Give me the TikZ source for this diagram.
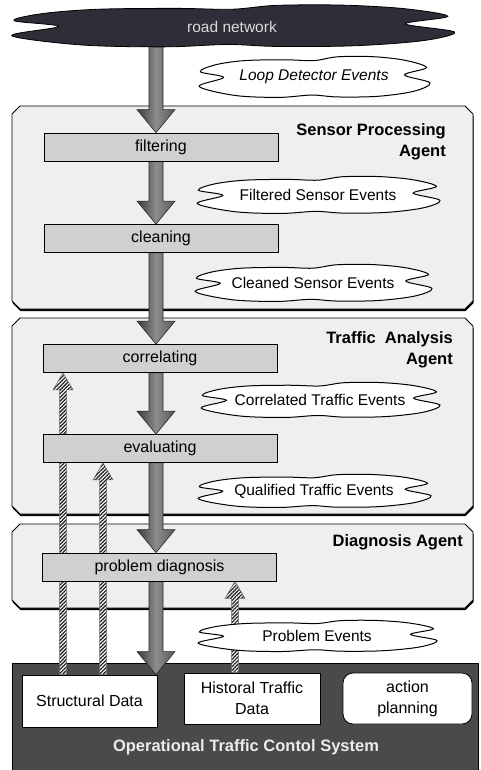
\documentclass[tikz,border=0pt]{standalone}
\usepackage{fontspec}
\setmainfont{Liberation Sans}
\usetikzlibrary{calc,patterns.meta}
\pgfdeclarelayer{back}
\pgfdeclarelayer{mid}
\pgfsetlayers{back,mid,main}
\definecolor{panelgray}{HTML}{EFEFEF}
\definecolor{boxgray}{HTML}{D0D0D0}
\definecolor{roadcol}{HTML}{2E2E38}
\definecolor{sysgray}{HTML}{4A4A4A}
\definecolor{arrdark}{HTML}{3C3C3C}
\definecolor{arrlight}{HTML}{8C8C8C}
\tikzset{
 procbox/.style={draw=black, line width=0.8pt, fill=boxgray, minimum width=234pt, minimum height=28pt, inner sep=0pt, font=\fontsize{16}{19}\selectfont},
 cloudline/.style={draw=black, line width=1pt, fill=white},
 cloudtext/.style={inner sep=0pt, font=\fontsize{15.5}{18}\selectfont},
 agentlabel/.style={align=right, font=\bfseries\fontsize{16.5}{21}\selectfont, inner sep=0pt},
 panelstyle/.style={draw=black, line width=0.8pt, fill=panelgray},
 bigarr/.style={draw=black!85, line width=0.6pt, left color=arrdark, right color=arrdark!85, middle color=arrlight},
 hatcharr/.style={draw=black!60, line width=0.5pt, preaction={fill=white}, pattern={Lines[angle=45,distance=2.6pt,line width=1.3pt]}, pattern color=black!85},
 databox/.style={draw=black, line width=0.8pt, fill=white, inner sep=0pt, align=center, font=\fontsize{16}{21}\selectfont},
}
\newcommand\cloudpath[5]{%
 \begin{scope}[shift={(#1,#2)}, xscale=#3/2, yscale=#4/2]
 \path[#5] plot[smooth cycle, tension=0.55] coordinates {(-0.78,0.02) (-0.98,-0.25) (-0.85,-0.58) (-0.6,-0.78) (-0.25,-0.82) (0.0,-0.78) (0.2,-0.96) (0.5,-0.97) (0.78,-0.8) (0.97,-0.45) (0.78,-0.10) (1.0,0.28) (0.86,0.68) (0.55,0.92) (0.2,0.95) (-0.02,0.86) (-0.3,0.97) (-0.68,0.88) (-0.99,0.45)};
 \end{scope}}
\newcommand\cloudnode[6]{%
 \cloudpath{#2}{#3}{#4}{#5}{cloudline}
 \node[cloudtext] (#1) at (#2,#3) {#6};}
\newcommand\chamfpoly[4]{({#1+8},#2) -- ({#3-8},#2) -- (#3,{#2+8}) -- (#3,{#4-8}) -- ({#3-8},#4) -- ({#1+8},#4) -- (#1,{#4-8}) -- (#1,{#2+8}) -- cycle}
\newcommand\panelbox[4]{%
 \fill[black, shift={(0.5,2)}] \chamfpoly{#1}{#2}{#3}{#4};
 \path[panelstyle] \chamfpoly{#1}{#2}{#3}{#4};}
\newcommand\bigarrow[3]{%
 \path[bigarr] let \p1=(#1.south), \p2=(#2.north) in
 (#3pt-7pt,\y1) -- (#3pt+7pt,\y1) -- (#3pt+7pt,\y2+23pt) -- (#3pt+19pt,\y2+23pt) -- (#3pt,\y2) -- (#3pt-19pt,\y2+23pt) -- (#3pt-7pt,\y2+23pt) -- cycle;}
\newcommand\hatcharrow[3]{%
 \path[hatcharr] let \p1=(#2.north), \p2=(#3.south) in
 (#1pt-3.5pt,\y1) -- (#1pt+3.5pt,\y1) -- (#1pt+3.5pt,\y2-17pt) -- (#1pt+10pt,\y2-17pt) -- (#1pt,\y2) -- (#1pt-10pt,\y2-17pt) -- (#1pt-3.5pt,\y2-17pt) -- cycle;}
\begin{document}
\begin{tikzpicture}[x=1pt,y=-1pt]
\useasboundingbox (0,0) rectangle (480,770);
% panels
\begin{pgfonlayer}{back}
\fill[white] (0,0) rectangle (480,770);
\panelbox{12}{106}{473}{309}
\panelbox{12}{318}{473}{514}
\panelbox{12}{524}{473}{608}
\draw[black, line width=0.8pt, fill=sysgray] (12,663) rectangle (478,770);
\end{pgfonlayer}
% road network cloud
\cloudpath{232}{26}{445}{43}{draw=black, fill=roadcol, line width=0.8pt}
\node[cloudtext, text=white!85!black] (road) at (232,27) {road network};
% process boxes
\node[procbox] (filter) at (161,147) {filtering};
\node[procbox] (clean) at (161,238.5) {cleaning};
\node[procbox] (corr) at (160,358.5) {correlating};
\node[procbox] (eval) at (160,448.5) {evaluating};
\node[procbox] (diag) at (159.5,567) {problem diagnosis};
% agent labels
\node[agentlabel, anchor=east] (spa) at (446,142) {Sensor Processing\\Agent};
\node[agentlabel, anchor=east] (taa) at (453,350) {Traffic\ \ Analysis\\Agent};
\node[agentlabel, anchor=east] (da) at (463,542) {Diagnosis Agent};
% event clouds
\cloudnode{loop}{314}{77}{232}{42}{\itshape Loop Detector Events}
\cloudnode{filt}{318}{195}{244}{38}{Filtered Sensor Events}
\cloudnode{clnd}{313}{283}{238}{38}{Cleaned Sensor Events}
\cloudnode{corrd}{320}{400}{240}{36}{Correlated Traffic Events}
\cloudnode{qual}{314}{491}{234}{34}{Qualified Traffic Events}
\cloudnode{probev}{317}{636}{240}{32}{Problem Events}
% operational system
\node[databox, minimum width=135pt, minimum height=52pt] (sd) at (89.5,701) {Structural Data};
\node[databox, minimum width=136pt, minimum height=51pt] (hist) at (252,698.5) {Historal Traffic\\Data};
\node[databox, rounded corners=10pt, minimum width=129pt, minimum height=51pt] (act) at (407.5,698.5) {action\\planning};
\node[font=\bfseries\fontsize{16.5}{18}\selectfont, text=white!92!black, inner sep=0pt] (ops) at (246,747) {Operational Traffic Contol System};
% arrows
\begin{pgfonlayer}{mid}
\bigarrow{road}{filter}{156}
\bigarrow{filter}{clean}{156}
\bigarrow{clean}{corr}{156}
\bigarrow{corr}{eval}{156}
\bigarrow{eval}{diag}{156}
\bigarrow{diag}{sd}{156}
\hatcharrow{63}{sd}{corr}
\hatcharrow{103}{sd}{eval}
\hatcharrow{235}{hist}{diag}
\end{pgfonlayer}
\end{tikzpicture}
\end{document}
